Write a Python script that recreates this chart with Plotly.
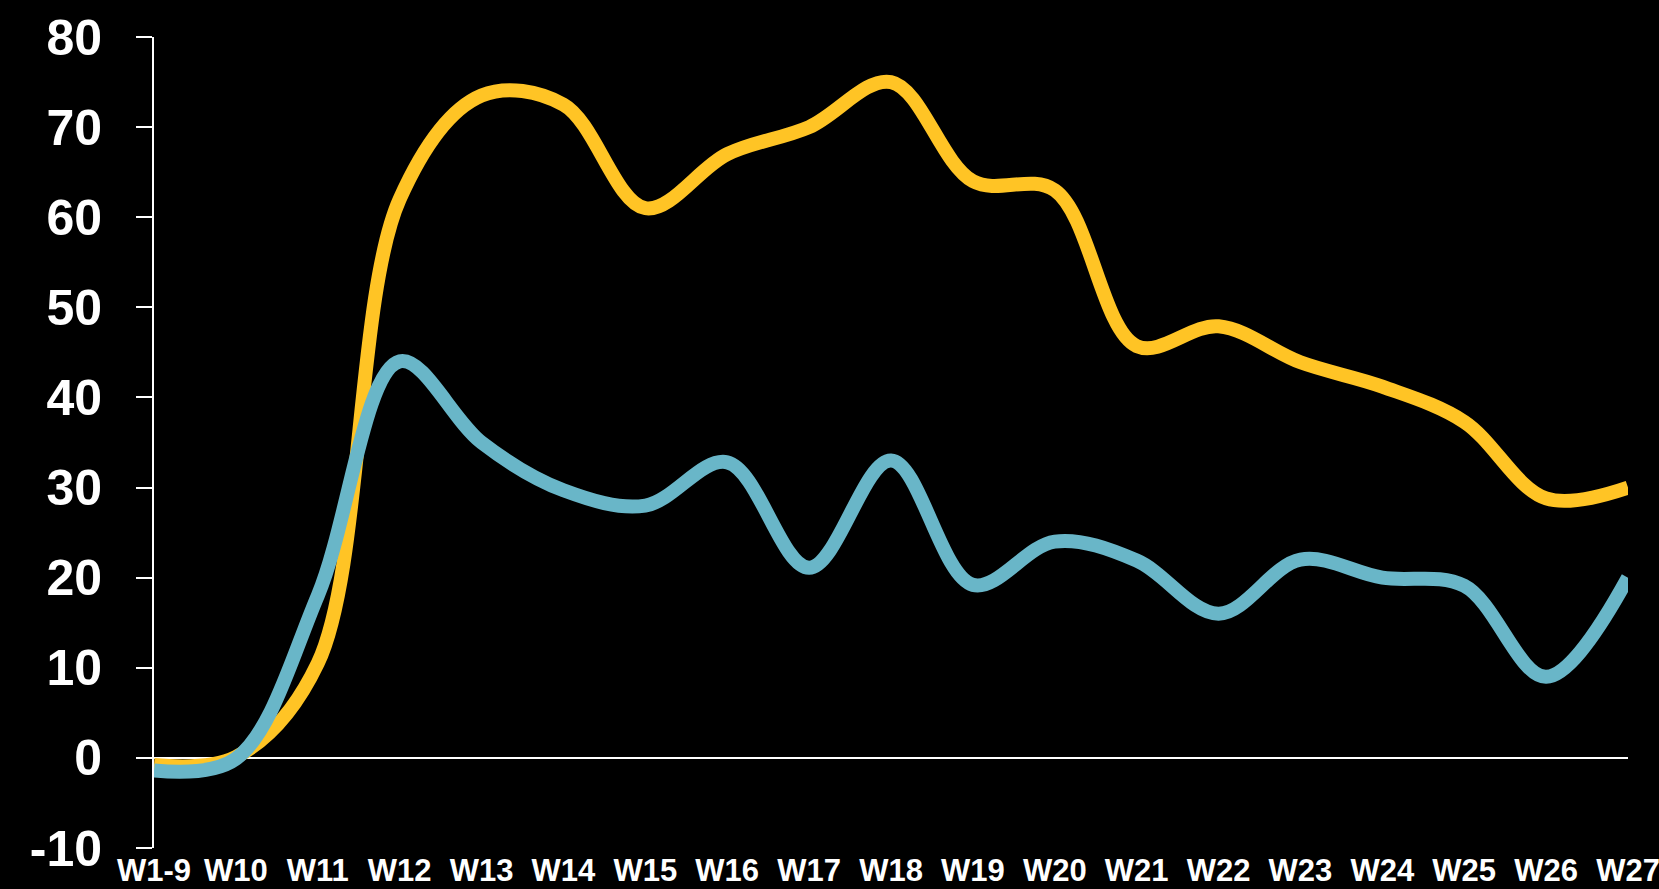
import plotly.graph_objects as go

# Weekly categories
weeks = ["W1-9", "W10", "W11", "W12", "W13", "W14", "W15", "W16", "W17", "W18",
         "W19", "W20", "W21", "W22", "W23", "W24", "W25", "W26", "W27"]

# Series values per week
series_yellow = [-0.8, 0.1, 10.5, 62, 73.5, 72.5, 61, 67, 70, 75,
                 64, 63, 45.7, 47.9, 43.9, 41.2, 37.3, 28.8, 30]
series_blue = [-1.4, -0.1, 18, 44, 35, 29.7, 28, 32.8, 21.1, 33,
               19.2, 24, 21.9, 16, 22, 20, 19.1, 9, 20]

y_ticks = [-10, 0, 10, 20, 30, 40, 50, 60, 70, 80]
y_tick_labels = ["-10", "0", "10", "20", "30", "40", "50", "60", "70", "80"]

YELLOW = "#FFC425"
BLUE = "#69B6C8"

fig = go.Figure()
fig.add_trace(go.Scatter(
    x=weeks, y=series_yellow, mode="lines",
    line=dict(color=YELLOW, width=14, shape="spline", smoothing=1.0),
    hoverinfo="skip", showlegend=False,
))
fig.add_trace(go.Scatter(
    x=weeks, y=series_blue, mode="lines",
    line=dict(color=BLUE, width=14, shape="spline", smoothing=1.0),
    hoverinfo="skip", showlegend=False,
))

fig.update_layout(
    width=1659, height=889,
    margin=dict(l=154, r=31, t=37, b=41, autoexpand=False),
    paper_bgcolor="black", plot_bgcolor="black",
    showlegend=False,
)

fig.update_xaxes(
    type="category", range=[0, 18], automargin=False,
    showgrid=False, zeroline=False, showline=False,
    ticks="", ticklabelstandoff=1,
    tickfont=dict(family="Liberation Sans, Arial", size=31, color="white", weight="bold"),
)

fig.update_yaxes(
    range=[-10, 80], tickvals=y_ticks, ticktext=y_tick_labels, automargin=False,
    showgrid=False,
    zeroline=True, zerolinecolor="white", zerolinewidth=2,
    showline=True, linecolor="white", linewidth=2,
    ticks="outside", ticklen=16, tickwidth=2, tickcolor="white",
    ticklabelstandoff=24,
    tickfont=dict(family="Liberation Sans, Arial", size=50, color="white", weight="bold"),
)

fig.write_html("out.html")
